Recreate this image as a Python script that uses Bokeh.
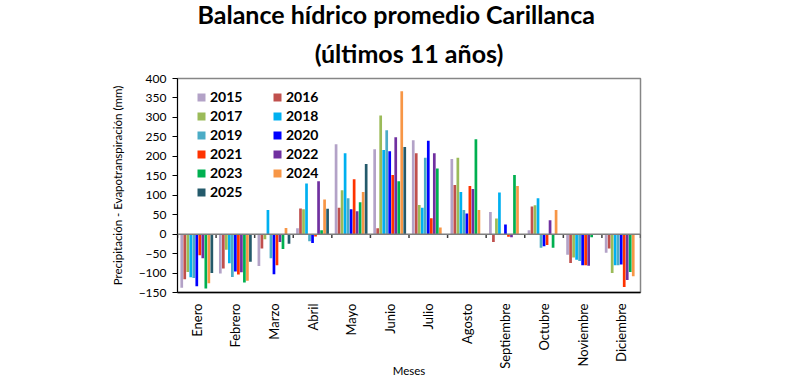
import math
from bokeh.plotting import figure
from bokeh.models import (ColumnDataSource, Legend, LegendItem, FixedTicker, Span,
                          Title, Range1d)
from bokeh.embed import file_html
from bokeh.resources import INLINE

nan = float("nan")

months = ["Enero", "Febrero", "Marzo", "Abril", "Mayo", "Junio", "Julio",
          "Agosto", "Septiembre", "Octubre", "Noviembre", "Diciembre"]
years = ["2015", "2016", "2017", "2018", "2019", "2020", "2021", "2022",
         "2023", "2024", "2025"]

v2015 = [-138, -101, -82, 15, 231, 218, 241, 193, 57, 10, -53, -48]
v2016 = [-116, -88, -37, 66, 68, 15, 208, 126, -20, 71, -74, -37]
v2017 = [-97, -40, -13, 64, 113, 305, 75, 196, 40, 74, -60, -100]
v2018 = [-111, -75, 62, 130, 208, 216, 68, 108, 107, 92, -66, -80]
v2019 = [-113, -110, -62, -18, 92, 267, 196, 62, nan, -35, -69, -80]
v2020 = [-134, -96, -103, -23, 64, 213, 240, 53, 25, -31, -80, -78]
v2021 = [-54, -104, -80, -6, 141, 152, 41, 124, -7, -28, -80, -136]
v2022 = [-62, -98, -20, 136, 59, 249, 208, 116, -8, 36, -81, -118]
v2023 = [-140, -124, -38, 10, 82, 136, 169, 244, 152, -35, -8, -97]
v2024 = [-126, -120, 16, 89, 108, 367, 17, 62, 124, 62, nan, -108]
v2025 = [-100, -71, -25, 65, 180, 224, nan, nan, nan, nan, nan, nan]

series = [v2015, v2016, v2017, v2018, v2019, v2020, v2021, v2022, v2023, v2024, v2025]
colors = ["#b3a2c7", "#c0504d", "#9bbb59", "#00b0f0", "#4bacc6", "#0000ff",
          "#ff3300", "#7030a0", "#00b050", "#f79646", "#245a6b"]

y_ticks = [-150, -100, -50, 0, 50, 100, 150, 200, 250, 300, 350, 400]

title1 = "Balance hídrico promedio Carillanca"
title2 = "(últimos 11 años)"

FONT = "Lato"

p = figure(width=789, height=380, output_backend="svg", toolbar_location=None,
           title_location=None,
           x_range=Range1d(0, len(months)), y_range=Range1d(y_ticks[0], y_ticks[-1]),
           min_border_left=177, min_border_right=149, min_border_top=78,
           min_border_bottom=88)
p.xgrid.visible = False
p.ygrid.visible = False
p.outline_line_color = "#868686"
p.outline_line_width = 1.5
p.background_fill_color = "white"
p.border_fill_color = "white"

slot = 0.078
bw = 0.07
n = len(years)
items = []
for j, (yr, vals, col) in enumerate(zip(years, series, colors)):
    xs = [i + 0.5 + (j - (n - 1) / 2) * slot for i in range(len(months))]
    src = ColumnDataSource(dict(x=xs, top=vals))
    r = p.vbar(x="x", top="top", bottom=0, width=bw, source=src,
               fill_color=col, line_color=None)
    items.append(LegendItem(label=yr, renderers=[r]))

# zero line with category ticks
p.add_layout(Span(location=0, dimension="width", line_color="#7f7f7f", line_width=1.5))
bounds = list(range(len(months) + 1))
p.segment(x0=bounds, x1=bounds, y0=[0] * len(bounds), y1=[-10] * len(bounds),
          line_color="#404040", line_width=1.5)

# axes
p.yaxis.ticker = FixedTicker(ticks=y_ticks)
p.yaxis.axis_line_color = "black"
p.yaxis.major_tick_out = 5
p.yaxis.major_tick_in = 0
p.yaxis.minor_tick_line_color = None
p.yaxis.major_label_text_font = FONT
p.yaxis.major_label_text_font_size = "12px"
p.yaxis.major_label_text_color = "black"
p.yaxis.major_label_standoff = 6
p.yaxis.axis_label = "Precipitación - Evapotranspiración (mm)"
p.yaxis.axis_label_text_font = FONT
p.yaxis.axis_label_text_font_size = "11.5px"
p.yaxis.axis_label_text_font_style = "normal"
p.yaxis.axis_label_text_color = "black"
p.yaxis.axis_label_standoff = 12

p.xaxis.ticker = FixedTicker(ticks=[i + 0.5 for i in range(len(months))])
p.xaxis.major_label_overrides = {i + 0.5: m for i, m in enumerate(months)}
p.xaxis.major_label_orientation = math.pi / 2
p.xaxis.major_tick_line_color = None
p.xaxis.minor_tick_line_color = None
p.xaxis.axis_line_color = "black"
p.xaxis.axis_line_width = 1.5
p.xaxis.major_label_text_font = FONT
p.xaxis.major_label_text_font_size = "13px"
p.xaxis.major_label_text_color = "black"
p.xaxis.major_label_standoff = 5
p.xaxis.axis_label = "Meses"
p.xaxis.axis_label_text_font = FONT
p.xaxis.axis_label_text_font_size = "11.5px"
p.xaxis.axis_label_text_font_style = "normal"
p.xaxis.axis_label_text_color = "black"
p.xaxis.axis_label_standoff = -8

# titles (line 2 is nearest the frame)
p.add_layout(Title(text=title2, align="center", standoff=22,
                   text_font=FONT, text_font_size="25px", text_font_style="bold",
                   text_color="black"), "above")
p.add_layout(Title(text=title1, align="left", offset=20, standoff=-8,
                   text_font=FONT, text_font_size="25px", text_font_style="bold",
                   text_color="black"), "above")

legend = Legend(items=items, orientation="horizontal", ncols=2,
                location=(19, 92), padding=0, spacing=2, margin=0,
                glyph_width=10, glyph_height=10, label_standoff=4,
                label_width=60, label_height=15,
                label_text_font=FONT, label_text_font_size="14px",
                label_text_font_style="bold", label_text_color="black",
                border_line_color=None, background_fill_alpha=0)
p.add_layout(legend)

open("out.html", "w").write(file_html(p, INLINE))
